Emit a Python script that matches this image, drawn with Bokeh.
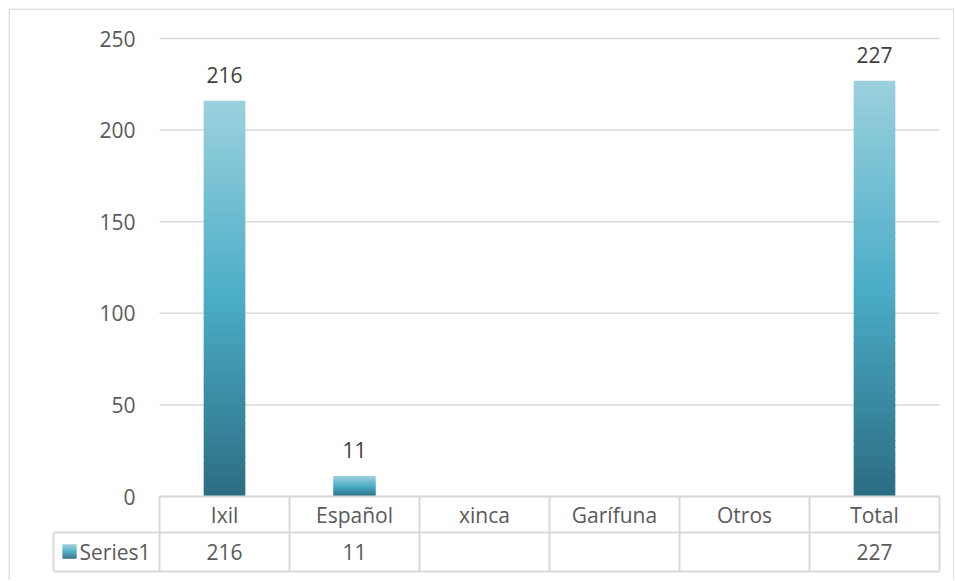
from bokeh.plotting import figure
from bokeh.models import Range1d, LinearAxis, FixedTicker
from bokeh.core.properties import value
from bokeh.embed import file_html
from bokeh.resources import INLINE

# ---------------- data ----------------
categories = ["Ixil", "Español", "xinca", "Garífuna", "Otros", "Total"]
values = [216, 11, None, None, None, 227]
series_name = "Series1"
y_ticks = [0, 50, 100, 150, 200, 250]

# ---------------- layout (page pixels) ----------------
FIG_W, FIG_H = 954, 580
FRAME_L, FRAME_R = 8, 954           # page x of frame edges
FRAME_T, FRAME_B = 8, 580           # page y of frame edges
X0_PX, COL_PX = 159, 130            # page x of x=0, width of one category column
Y0_PX, Y250_PX = 496, 38            # page y of value 0 and 250
PPU = (Y0_PX - Y250_PX) / 250.0
TABLE_LEFT_PX = 53
ROW_SEP_PX, TABLE_BOTTOM_PX = 532, 571
HEAD_TEXT_PX, ROW_TEXT_PX = 514, 551
KEY_X_PX, LABEL_X_PX = 69, 79
BORDER_L, BORDER_T, BORDER_R = 8.5, 8.5, 953.5


def dx(px):
    return (px - X0_PX) / COL_PX


def dy(py):
    return (Y0_PX - py) / PPU


GRID = "#d9d9d9"
TXT = "#595959"
LBL = "#404040"
FONT = value("Open Sans")
FS = "21px"
stops = [(0.0, (0x2b, 0x6d, 0x82)), (0.5, (0x4b, 0xad, 0xc7)), (1.0, (0x9b, 0xd1, 0xde))]


def grad(t):
    for (t0, c0), (t1, c1) in zip(stops[:-1], stops[1:]):
        if t <= t1:
            f = (t - t0) / (t1 - t0)
            c = [round(a + (b - a) * f) for a, b in zip(c0, c1)]
            return "#%02x%02x%02x" % tuple(c)
    return "#%02x%02x%02x" % stops[-1][1]


p = figure(
    width=FIG_W, height=FIG_H, output_backend="svg", toolbar_location=None,
    x_range=Range1d(dx(FRAME_L), dx(FRAME_R)),
    y_range=Range1d(dy(FRAME_B), dy(FRAME_T)),
    x_axis_location=None, y_axis_location=None,
    min_border_left=FRAME_L, min_border_right=FIG_W - FRAME_R,
    min_border_top=FRAME_T, min_border_bottom=FIG_H - FRAME_B,
)
p.outline_line_color = None
p.xgrid.visible = False
p.ygrid.visible = False
p.background_fill_color = "white"
p.border_fill_color = "white"

ncat = len(categories)

# chart-area border (left, top, right)
p.segment(x0=[dx(BORDER_L), dx(BORDER_L), dx(BORDER_R)],
          x1=[dx(BORDER_L), dx(BORDER_R), dx(BORDER_R)],
          y0=[dy(BORDER_T), dy(BORDER_T), dy(BORDER_T)],
          y1=[dy(FRAME_B + 5), dy(BORDER_T), dy(FRAME_B + 5)],
          line_color=GRID, line_width=1.5)

# gridlines
p.segment(x0=[0] * len(y_ticks), x1=[ncat] * len(y_ticks), y0=y_ticks, y1=y_ticks,
          line_color=GRID, line_width=1.5)

# y axis
yax = LinearAxis(fixed_location=0, ticker=FixedTicker(ticks=y_ticks))
yax.axis_line_color = None
yax.major_tick_line_color = None
yax.minor_tick_line_color = None
yax.major_label_standoff = 18
yax.major_label_text_font = "Open Sans"
yax.major_label_text_font_size = FS
yax.major_label_text_color = TXT
p.add_layout(yax, "left")

# bars with vertical gradient (overlapping slices)
BW = 0.32
N = 60
OV = 1.0 / PPU
L, R, B, T, C = [], [], [], [], []
for i, v in enumerate(values):
    if v is None:
        continue
    for k in range(N):
        L.append(i + 0.5 - BW / 2)
        R.append(i + 0.5 + BW / 2)
        B.append(v * k / N)
        T.append(min(v, v * (k + 1) / N + OV))
        C.append(grad((k + 0.5) / N))
p.quad(left=L, right=R, bottom=B, top=T, fill_color=C, line_color=None)

# data labels
lx = [i + 0.5 for i, v in enumerate(values) if v is not None]
ly = [v for v in values if v is not None]
lt = [str(v) for v in values if v is not None]
p.text(x=lx, y=ly, text=lt, text_align="center", text_baseline="alphabetic", y_offset=-26,
       text_font=FONT, text_font_size=FS, text_color=LBL)

# data table lines
tl = dx(TABLE_LEFT_PX)
rs, tb = dy(ROW_SEP_PX), dy(TABLE_BOTTOM_PX)
hy = [0, rs, tb]
p.segment(x0=[0, tl, tl], x1=[ncat] * 3, y0=hy, y1=hy, line_color=GRID, line_width=2)
vx = list(range(ncat + 1))
p.segment(x0=vx, x1=vx, y0=[0] * len(vx), y1=[tb] * len(vx), line_color=GRID, line_width=2)
p.segment(x0=[tl], x1=[tl], y0=[rs], y1=[tb], line_color=GRID, line_width=2)

# table header (categories)
p.text(x=[i + 0.5 for i in range(ncat)], y=[dy(HEAD_TEXT_PX)] * ncat, text=categories,
       text_align="center", text_baseline="middle", text_font=FONT, text_font_size=FS,
       text_color=TXT)
# table values row
p.text(x=lx, y=[dy(ROW_TEXT_PX)] * len(lx), text=lt, text_align="center",
       text_baseline="middle", text_font=FONT, text_font_size=FS, text_color=TXT)
# series label and key
p.text(x=[dx(LABEL_X_PX)], y=[dy(ROW_TEXT_PX)], text=[series_name], text_align="left",
       text_baseline="middle", text_font=FONT, text_font_size=FS, text_color=TXT)
KN = 14
key_top = ROW_TEXT_PX - 7
ky = [dy(key_top + j + 0.5) for j in range(KN)]
kc = [grad(1 - (j + 0.5) / KN) for j in range(KN)]
p.rect(x=[dx(KEY_X_PX)] * KN, y=ky, width=14, height=1.3, width_units="screen",
       height_units="screen", fill_color=kc, line_color=None)

open("out.html", "w").write(file_html(p, INLINE))
